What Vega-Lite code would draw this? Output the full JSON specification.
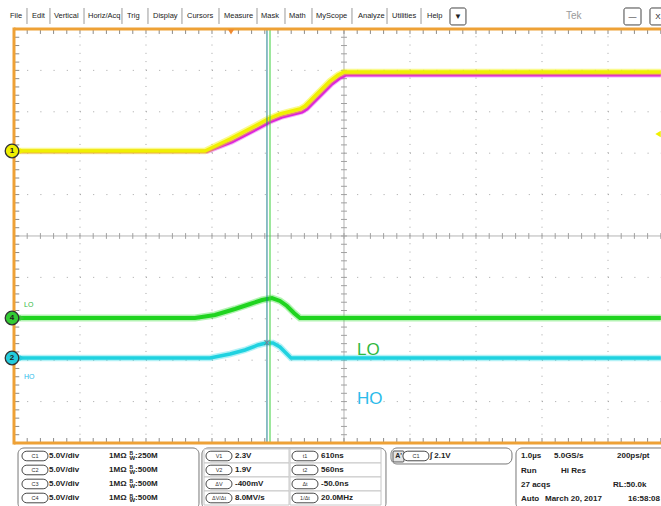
{
 "$schema": "https://vega.github.io/schema/vega-lite/v6.json",
 "width": 661, "height": 506,
 "autosize": {"type": "none"},
 "padding": 0,
 "background": "#ffffff",
 "config": {"view": {"stroke": null}, "font": "Liberation Sans", "text": {"font": "Liberation Sans"}},
 "datasets": {
  "minor": [{"p":-4.8},{"p":-4.6},{"p":-4.4},{"p":-4.2},{"p":-4},{"p":-3.8},{"p":-3.6},{"p":-3.4},{"p":-3.2},{"p":-3},{"p":-2.8},{"p":-2.6},{"p":-2.4},{"p":-2.2},{"p":-2},{"p":-1.8},{"p":-1.6},{"p":-1.4},{"p":-1.2},{"p":-1},{"p":-0.8},{"p":-0.6},{"p":-0.4},{"p":-0.2},{"p":0},{"p":0.2},{"p":0.4},{"p":0.6},{"p":0.8},{"p":1},{"p":1.2},{"p":1.4},{"p":1.6},{"p":1.8},{"p":2},{"p":2.2},{"p":2.4},{"p":2.6},{"p":2.8},{"p":3},{"p":3.2},{"p":3.4},{"p":3.6},{"p":3.8},{"p":4},{"p":4.2},{"p":4.4},{"p":4.6},{"p":4.8}],
  "major": [{"p":-4},{"p":-3},{"p":-2},{"p":-1},{"p":1},{"p":2},{"p":3},{"p":4}],
  "traces": [
   {"ch":"Y","t":-5,"v":2.053},{"ch":"Y","t":-2.106,"v":2.053},{"ch":"Y","t":-1.727,"v":2.343},{"ch":"Y","t":-1.348,"v":2.657},{"ch":"Y","t":-1.152,"v":2.826},{"ch":"Y","t":-0.97,"v":2.947},{"ch":"Y","t":-0.788,"v":3.019},{"ch":"Y","t":-0.667,"v":3.068},{"ch":"Y","t":-0.591,"v":3.14},{"ch":"Y","t":-0.485,"v":3.309},{"ch":"Y","t":-0.364,"v":3.502},{"ch":"Y","t":-0.212,"v":3.744},{"ch":"Y","t":-0.091,"v":3.889},{"ch":"Y","t":0,"v":3.961},{"ch":"Y","t":4.8,"v":3.961},
   {"ch":"M","t":-5,"v":2.04},{"ch":"M","t":-2.076,"v":2.04},{"ch":"M","t":-1.697,"v":2.271},{"ch":"M","t":-1.318,"v":2.585},{"ch":"M","t":-1.121,"v":2.754},{"ch":"M","t":-0.939,"v":2.874},{"ch":"M","t":-0.758,"v":2.947},{"ch":"M","t":-0.636,"v":2.995},{"ch":"M","t":-0.561,"v":3.068},{"ch":"M","t":-0.455,"v":3.237},{"ch":"M","t":-0.333,"v":3.43},{"ch":"M","t":-0.182,"v":3.671},{"ch":"M","t":-0.061,"v":3.816},{"ch":"M","t":0.03,"v":3.889},{"ch":"M","t":4.8,"v":3.889},
   {"ch":"G","t":-5,"v":-1.981},{"ch":"G","t":-2.258,"v":-1.981},{"ch":"G","t":-1.955,"v":-1.908},{"ch":"G","t":-1.652,"v":-1.763},{"ch":"G","t":-1.424,"v":-1.643},{"ch":"G","t":-1.242,"v":-1.546},{"ch":"G","t":-1.091,"v":-1.498},{"ch":"G","t":-0.97,"v":-1.57},{"ch":"G","t":-0.864,"v":-1.691},{"ch":"G","t":-0.758,"v":-1.86},{"ch":"G","t":-0.667,"v":-1.981},{"ch":"G","t":4.8,"v":-1.981},
   {"ch":"C","t":-5,"v":-2.947},{"ch":"C","t":-2.03,"v":-2.947},{"ch":"C","t":-1.727,"v":-2.85},{"ch":"C","t":-1.5,"v":-2.754},{"ch":"C","t":-1.303,"v":-2.633},{"ch":"C","t":-1.182,"v":-2.585},{"ch":"C","t":-1.076,"v":-2.585},{"ch":"C","t":-0.97,"v":-2.681},{"ch":"C","t":-0.879,"v":-2.826},{"ch":"C","t":-0.803,"v":-2.947},{"ch":"C","t":4.8,"v":-2.947}
  ],
  "markers": [{"t":-5.03,"v":2.053,"ch":"1"},{"t":-5.03,"v":-1.981,"ch":"4"},{"t":-5.03,"v":-2.947,"ch":"2"}],
  "menu": [{"t":-5.061,"label":"File"},{"t":-4.727,"label":"Edit"},{"t":-4.394,"label":"Vertical"},{"t":-3.879,"label":"Horiz/Acq"},{"t":-3.288,"label":"Trig"},{"t":-2.894,"label":"Display"},{"t":-2.379,"label":"Cursors"},{"t":-1.818,"label":"Measure"},{"t":-1.258,"label":"Mask"},{"t":-0.833,"label":"Math"},{"t":-0.424,"label":"MyScope"},{"t":0.212,"label":"Analyze"},{"t":0.727,"label":"Utilities"},{"t":1.258,"label":"Help"}],
  "seps": [{"t":-4.803},{"t":-4.455},{"t":-3.939},{"t":-3.364},{"t":-2.97},{"t":-2.455},{"t":-1.894},{"t":-1.318},{"t":-0.894},{"t":-0.485},{"t":0.121},{"t":0.652},{"t":1.167}],
  "boxes": [{"t":1.606,"t2":1.848,"label":"▼","c":1.727},{"t":4.242,"t2":4.5,"label":"—","c":4.371},{"t":4.636,"t2":4.879,"label":"X","c":4.758}],
  "frames": [{"t":-4.939,"t2":-2.197,"v":-5.121,"v2":-6.6},{"t":-2.152,"t2":0.636,"v":-5.121,"v2":-6.6},{"t":0.712,"t2":2.545,"v":-5.121,"v2":-5.507},{"t":2.606,"t2":4.9,"v":-5.121,"v2":-6.6}],
  "cells": [{"t":-2.121,"t2":-0.833,"v":-5.145,"v2":-5.483},{"t":-0.818,"t2":0.561,"v":-5.145,"v2":-5.483},{"t":-2.121,"t2":-0.833,"v":-5.483,"v2":-5.821},{"t":-0.818,"t2":0.561,"v":-5.483,"v2":-5.821},{"t":-2.121,"t2":-0.833,"v":-5.821,"v2":-6.159},{"t":-0.818,"t2":0.561,"v":-5.821,"v2":-6.159},{"t":-2.121,"t2":-0.833,"v":-6.159,"v2":-6.498},{"t":-0.818,"t2":0.561,"v":-6.159,"v2":-6.498}],
  "p1": [{"v":-5.314,"ch":"C1","bw":":250M"},{"v":-5.652,"ch":"C2","bw":":500M"},{"v":-5.99,"ch":"C3","bw":":500M"},{"v":-6.329,"ch":"C4","bw":":500M"}],
  "p2": [{"v":-5.314,"a":"V1","av":"2.3V","b":"t1","bv":"610ns"},{"v":-5.652,"a":"V2","av":"1.9V","b":"t2","bv":"560ns"},{"v":-5.99,"a":"ΔV","av":"-400mV","b":"Δt","bv":"-50.0ns"},{"v":-6.329,"a":"ΔV/Δt","av":"8.0MV/s","b":"1/Δt","bv":"20.0MHz"}],
  "p4": [{"t":2.682,"v":-5.314,"label":"1.0µs"},{"t":3.182,"v":-5.314,"label":"5.0GS/s"},{"t":4.136,"v":-5.314,"label":"200ps/pt"},{"t":2.682,"v":-5.676,"label":"Run"},{"t":3.288,"v":-5.676,"label":"Hi Res"},{"t":2.682,"v":-6.014,"label":"27 acqs"},{"t":4.076,"v":-6.014,"label":"RL:50.0k"},{"t":2.682,"v":-6.353,"label":"Auto"},{"t":3.045,"v":-6.353,"label":"March 20, 2017"},{"t":4.303,"v":-6.353,"label":"16:58:08"}],
  "labels": [{"t":0.197,"v":-2.754,"label":"LO","c":"g"},{"t":0.197,"v":-3.937,"label":"HO","c":"c"}],
  "small": [{"t":-4.848,"v":-1.667,"label":"LO","c":"g"},{"t":-4.848,"v":-3.406,"label":"HO","c":"c"}]
 },
 "layer": [
  {"data": {"name": "major"}, "mark": {"type": "rule", "color": "#a4a4a4", "strokeWidth": 1, "strokeDash": [1, 7.28]},
   "encoding": {"x": {"field": "p", "type": "quantitative", "scale": {"domain": [-5.212, 4.803], "nice": false, "zero": false}, "axis": null},
                "y": {"datum": -5, "type": "quantitative", "scale": {"domain": [-6.522, 5.7], "nice": false, "zero": false}, "axis": null},
                "y2": {"datum": 5}}},
  {"data": {"name": "major"}, "mark": {"type": "rule", "color": "#a4a4a4", "strokeWidth": 1, "strokeDash": [1, 12.2]},
   "encoding": {"y": {"field": "p", "type": "quantitative"}, "x": {"datum": -5}, "x2": {"datum": 4.803}}},
  {"data": {"values": [{}]}, "mark": {"type": "rule", "color": "#b4b4b4", "strokeWidth": 1},
   "encoding": {"x": {"datum": 0}, "y": {"datum": -5}, "y2": {"datum": 5}}},
  {"data": {"values": [{}]}, "mark": {"type": "rule", "color": "#b4b4b4", "strokeWidth": 1},
   "encoding": {"y": {"datum": 0}, "x": {"datum": -5}, "x2": {"datum": 4.803}}},
  {"data": {"name": "minor"}, "mark": {"type": "rule", "color": "#8a8a8a", "strokeWidth": 1},
   "encoding": {"x": {"field": "p", "type": "quantitative"}, "y": {"datum": 4.88}, "y2": {"datum": 5}}},
  {"data": {"name": "minor"}, "mark": {"type": "rule", "color": "#8a8a8a", "strokeWidth": 1},
   "encoding": {"x": {"field": "p", "type": "quantitative"}, "y": {"datum": -5}, "y2": {"datum": -4.88}}},
  {"data": {"name": "minor"}, "mark": {"type": "rule", "color": "#a0a0a0", "strokeWidth": 1},
   "encoding": {"x": {"field": "p", "type": "quantitative"}, "y": {"datum": -0.07}, "y2": {"datum": 0.07}}},
  {"data": {"name": "minor"}, "mark": {"type": "rule", "color": "#8a8a8a", "strokeWidth": 1},
   "encoding": {"y": {"field": "p", "type": "quantitative"}, "x": {"datum": -5}, "x2": {"datum": -4.92}}},
  {"data": {"name": "minor"}, "mark": {"type": "rule", "color": "#a0a0a0", "strokeWidth": 1},
   "encoding": {"y": {"field": "p", "type": "quantitative"}, "x": {"datum": -0.045}, "x2": {"datum": 0.045}}},

  {"data": {"name": "traces"}, "transform": [{"filter": "datum.ch === 'M'"}], "mark": {"type": "line", "color": "#e020e0", "strokeWidth": 5, "opacity": 0.35},
   "encoding": {"x": {"field": "t", "type": "quantitative"}, "y": {"field": "v", "type": "quantitative"}}},
  {"data": {"name": "traces"}, "transform": [{"filter": "datum.ch === 'M'"}], "mark": {"type": "line", "color": "#dd22dd", "strokeWidth": 3},
   "encoding": {"x": {"field": "t", "type": "quantitative"}, "y": {"field": "v", "type": "quantitative"}}},
  {"data": {"name": "traces"}, "transform": [{"filter": "datum.ch === 'Y'"}], "mark": {"type": "line", "color": "#f4f400", "strokeWidth": 6.5, "opacity": 0.45},
   "encoding": {"x": {"field": "t", "type": "quantitative"}, "y": {"field": "v", "type": "quantitative"}}},
  {"data": {"name": "traces"}, "transform": [{"filter": "datum.ch === 'Y'"}], "mark": {"type": "line", "color": "#f0f000", "strokeWidth": 3.5},
   "encoding": {"x": {"field": "t", "type": "quantitative"}, "y": {"field": "v", "type": "quantitative"}}},
  {"data": {"name": "traces"}, "transform": [{"filter": "datum.ch === 'G'"}], "mark": {"type": "line", "color": "#22dd22", "strokeWidth": 7, "opacity": 0.35},
   "encoding": {"x": {"field": "t", "type": "quantitative"}, "y": {"field": "v", "type": "quantitative"}}},
  {"data": {"name": "traces"}, "transform": [{"filter": "datum.ch === 'G'"}], "mark": {"type": "line", "color": "#1fd41f", "strokeWidth": 4},
   "encoding": {"x": {"field": "t", "type": "quantitative"}, "y": {"field": "v", "type": "quantitative"}}},
  {"data": {"name": "traces"}, "transform": [{"filter": "datum.ch === 'C'"}], "mark": {"type": "line", "color": "#22d8e4", "strokeWidth": 6.5, "opacity": 0.35},
   "encoding": {"x": {"field": "t", "type": "quantitative"}, "y": {"field": "v", "type": "quantitative"}}},
  {"data": {"name": "traces"}, "transform": [{"filter": "datum.ch === 'C'"}], "mark": {"type": "line", "color": "#1fd2e0", "strokeWidth": 3.5},
   "encoding": {"x": {"field": "t", "type": "quantitative"}, "y": {"field": "v", "type": "quantitative"}}},

  {"data": {"values": [{}]}, "mark": {"type": "rule", "color": "#1b7f8c", "strokeWidth": 1},
   "encoding": {"x": {"datum": -1.167}, "y": {"datum": -5}, "y2": {"datum": 5}}},
  {"data": {"values": [{}]}, "mark": {"type": "rule", "color": "#3ccf3c", "strokeWidth": 1},
   "encoding": {"x": {"datum": -1.121}, "y": {"datum": -5}, "y2": {"datum": 5}}},
  {"data": {"values": [{}]}, "mark": {"type": "text", "text": "×", "fontSize": 13, "color": "#7a8a9a", "align": "center", "baseline": "middle"},
   "encoding": {"x": {"datum": -1.167}, "y": {"datum": -2.585}}},

  {"data": {"values": [{}]}, "mark": {"type": "rule", "color": "#eea136", "strokeWidth": 3},
   "encoding": {"x": {"datum": -5}, "x2": {"datum": 4.803}, "y": {"datum": 5}}},
  {"data": {"values": [{}]}, "mark": {"type": "rule", "color": "#eea136", "strokeWidth": 3},
   "encoding": {"x": {"datum": -5}, "x2": {"datum": 4.803}, "y": {"datum": -5}}},
  {"data": {"values": [{}]}, "mark": {"type": "rule", "color": "#eea136", "strokeWidth": 3},
   "encoding": {"x": {"datum": -5}, "y": {"datum": -5.036}, "y2": {"datum": 5.036}}},

  {"data": {"name": "markers"}, "mark": {"type": "point", "shape": "triangle-right", "filled": true, "size": 35, "opacity": 1},
   "encoding": {"x": {"datum": -4.879}, "y": {"field": "v", "type": "quantitative"}, "color": {"field": "ch", "type": "nominal", "scale": {"domain": ["1", "4", "2"], "range": ["#f0f000", "#33cc33", "#22ccdd"]}, "legend": null}}},
  {"data": {"name": "markers"}, "mark": {"type": "point", "shape": "circle", "filled": true, "size": 185, "opacity": 1, "stroke": "#333333", "strokeWidth": 1.3},
   "encoding": {"x": {"field": "t", "type": "quantitative"}, "y": {"field": "v", "type": "quantitative"}, "color": {"field": "ch", "type": "nominal", "scale": {"domain": ["1", "4", "2"], "range": ["#f0f000", "#33cc33", "#22ccdd"]}, "legend": null}}},
  {"data": {"name": "markers"}, "mark": {"type": "text", "fontSize": 8, "fontWeight": "bold", "color": "#222", "align": "center", "baseline": "middle"},
   "encoding": {"x": {"field": "t", "type": "quantitative"}, "y": {"field": "v", "type": "quantitative"}, "text": {"field": "ch"}}},

  {"data": {"values": [{}]}, "mark": {"type": "point", "shape": "triangle-down", "filled": true, "size": 40, "color": "#f08a30", "opacity": 1},
   "encoding": {"x": {"datum": -1.712}, "y": {"datum": 4.93}}},
  {"data": {"values": [{}]}, "mark": {"type": "point", "shape": "triangle-left", "filled": true, "size": 40, "color": "#f0f000", "opacity": 1},
   "encoding": {"x": {"datum": 4.758}, "y": {"datum": 2.464}}},

  {"data": {"name": "labels"}, "transform": [{"filter": "datum.c === 'g'"}], "mark": {"type": "text", "fontSize": 17, "align": "left", "baseline": "middle", "color": "#2fb83f"},
   "encoding": {"x": {"field": "t", "type": "quantitative"}, "y": {"field": "v", "type": "quantitative"}, "text": {"field": "label"}}},
  {"data": {"name": "labels"}, "transform": [{"filter": "datum.c === 'c'"}], "mark": {"type": "text", "fontSize": 17, "align": "left", "baseline": "middle", "color": "#2cbbea"},
   "encoding": {"x": {"field": "t", "type": "quantitative"}, "y": {"field": "v", "type": "quantitative"}, "text": {"field": "label"}}},
  {"data": {"name": "small"}, "transform": [{"filter": "datum.c === 'g'"}], "mark": {"type": "text", "fontSize": 7, "align": "left", "baseline": "middle", "color": "#2fb83f"},
   "encoding": {"x": {"field": "t", "type": "quantitative"}, "y": {"field": "v", "type": "quantitative"}, "text": {"field": "label"}}},
  {"data": {"name": "small"}, "transform": [{"filter": "datum.c === 'c'"}], "mark": {"type": "text", "fontSize": 7, "align": "left", "baseline": "middle", "color": "#2cbbea"},
   "encoding": {"x": {"field": "t", "type": "quantitative"}, "y": {"field": "v", "type": "quantitative"}, "text": {"field": "label"}}},

  {"data": {"name": "menu"}, "mark": {"type": "text", "fontSize": 7.5, "color": "#222", "align": "left", "baseline": "middle"},
   "encoding": {"x": {"field": "t", "type": "quantitative"}, "y": {"datum": 5.314}, "text": {"field": "label"}}},
  {"data": {"name": "seps"}, "mark": {"type": "rule", "color": "#9a9a9a", "strokeWidth": 1},
   "encoding": {"x": {"field": "t", "type": "quantitative"}, "y": {"datum": 5.121}, "y2": {"datum": 5.507}}},
  {"data": {"name": "boxes"}, "mark": {"type": "rect", "fill": "#ffffff", "stroke": "#444", "strokeWidth": 1, "cornerRadius": 2},
   "encoding": {"x": {"field": "t", "type": "quantitative"}, "x2": {"field": "t2"}, "y": {"datum": 5.097}, "y2": {"datum": 5.507}}},
  {"data": {"name": "boxes"}, "mark": {"type": "text", "fontSize": 8, "color": "#222", "align": "center", "baseline": "middle"},
   "encoding": {"x": {"field": "c", "type": "quantitative"}, "y": {"datum": 5.3}, "text": {"field": "label"}}},
  {"data": {"values": [{}]}, "mark": {"type": "text", "text": "Tek", "fontSize": 10, "color": "#9a9a9a", "align": "left", "baseline": "middle"},
   "encoding": {"x": {"datum": 3.364}, "y": {"datum": 5.314}}},

  {"data": {"name": "frames"}, "mark": {"type": "rect", "fill": "#ffffff", "stroke": "#777", "strokeWidth": 1, "cornerRadius": 6},
   "encoding": {"x": {"field": "t", "type": "quantitative"}, "x2": {"field": "t2"}, "y": {"field": "v", "type": "quantitative"}, "y2": {"field": "v2"}}},
  {"data": {"name": "cells"}, "mark": {"type": "rect", "fill": "#ffffff", "stroke": "#c8c8c8", "strokeWidth": 1},
   "encoding": {"x": {"field": "t", "type": "quantitative"}, "x2": {"field": "t2"}, "y": {"field": "v", "type": "quantitative"}, "y2": {"field": "v2"}}},

  {"data": {"name": "p1"}, "mark": {"type": "point", "shape": "M-0.6,-0.35L0.6,-0.35A0.35,0.35,0,0,1,0.6,0.35L-0.6,0.35A0.35,0.35,0,0,1,-0.6,-0.35Z", "size": 751, "filled": true, "fill": "#ffffff", "stroke": "#333", "strokeWidth": 0.9, "opacity": 1},
   "encoding": {"x": {"datum": -4.682}, "y": {"field": "v", "type": "quantitative"}}},
  {"data": {"name": "p1"}, "mark": {"type": "text", "fontSize": 5.5, "color": "#333", "align": "center", "baseline": "middle"},
   "encoding": {"x": {"datum": -4.682}, "y": {"field": "v", "type": "quantitative"}, "text": {"field": "ch"}}},
  {"data": {"name": "p1"}, "mark": {"type": "text", "text": "5.0V/div", "fontSize": 8, "fontWeight": "bold", "color": "#222", "align": "left", "baseline": "middle"},
   "encoding": {"x": {"datum": -4.47}, "y": {"field": "v", "type": "quantitative"}}},
  {"data": {"name": "p1"}, "mark": {"type": "text", "text": "1MΩ", "fontSize": 8, "fontWeight": "bold", "color": "#222", "align": "left", "baseline": "middle"},
   "encoding": {"x": {"datum": -3.56}, "y": {"field": "v", "type": "quantitative"}}},
  {"data": {"name": "p1"}, "mark": {"type": "text", "text": "B", "fontSize": 5, "fontWeight": "bold", "color": "#222", "align": "left", "baseline": "middle", "dy": -2.5},
   "encoding": {"x": {"datum": -3.25}, "y": {"field": "v", "type": "quantitative"}}},
  {"data": {"name": "p1"}, "mark": {"type": "text", "text": "W", "fontSize": 6, "fontWeight": "bold", "color": "#222", "align": "left", "baseline": "middle", "dy": 2},
   "encoding": {"x": {"datum": -3.25}, "y": {"field": "v", "type": "quantitative"}}},
  {"data": {"name": "p1"}, "mark": {"type": "text", "fontSize": 8, "fontWeight": "bold", "color": "#222", "align": "left", "baseline": "middle"},
   "encoding": {"x": {"datum": -3.165}, "y": {"field": "v", "type": "quantitative"}, "text": {"field": "bw"}}},

  {"data": {"name": "p2"}, "mark": {"type": "point", "shape": "M-0.6,-0.35L0.6,-0.35A0.35,0.35,0,0,1,0.6,0.35L-0.6,0.35A0.35,0.35,0,0,1,-0.6,-0.35Z", "size": 751, "filled": true, "fill": "#ffffff", "stroke": "#333", "strokeWidth": 0.9, "opacity": 1},
   "encoding": {"x": {"datum": -1.894}, "y": {"field": "v", "type": "quantitative"}}},
  {"data": {"name": "p2"}, "mark": {"type": "point", "shape": "M-0.6,-0.35L0.6,-0.35A0.35,0.35,0,0,1,0.6,0.35L-0.6,0.35A0.35,0.35,0,0,1,-0.6,-0.35Z", "size": 751, "filled": true, "fill": "#ffffff", "stroke": "#333", "strokeWidth": 0.9, "opacity": 1},
   "encoding": {"x": {"datum": -0.591}, "y": {"field": "v", "type": "quantitative"}}},
  {"data": {"name": "p2"}, "mark": {"type": "text", "fontSize": 5.5, "color": "#333", "align": "center", "baseline": "middle"},
   "encoding": {"x": {"datum": -1.894}, "y": {"field": "v", "type": "quantitative"}, "text": {"field": "a"}}},
  {"data": {"name": "p2"}, "mark": {"type": "text", "fontSize": 5.5, "color": "#333", "align": "center", "baseline": "middle"},
   "encoding": {"x": {"datum": -0.591}, "y": {"field": "v", "type": "quantitative"}, "text": {"field": "b"}}},
  {"data": {"name": "p2"}, "mark": {"type": "text", "fontSize": 8, "fontWeight": "bold", "color": "#222", "align": "left", "baseline": "middle"},
   "encoding": {"x": {"datum": -1.652}, "y": {"field": "v", "type": "quantitative"}, "text": {"field": "av"}}},
  {"data": {"name": "p2"}, "mark": {"type": "text", "fontSize": 8, "fontWeight": "bold", "color": "#222", "align": "left", "baseline": "middle"},
   "encoding": {"x": {"datum": -0.348}, "y": {"field": "v", "type": "quantitative"}, "text": {"field": "bv"}}},

  {"data": {"values": [{}]}, "mark": {"type": "rect", "fill": "#e4e4e4", "stroke": "#444", "strokeWidth": 0.9, "cornerRadius": 1},
   "encoding": {"x": {"datum": 0.742}, "x2": {"datum": 0.909}, "y": {"datum": -5.193}, "y2": {"datum": -5.459}}},
  {"data": {"values": [{}]}, "mark": {"type": "text", "text": "A'", "fontSize": 7, "fontWeight": "bold", "color": "#222", "align": "center", "baseline": "middle"},
   "encoding": {"x": {"datum": 0.826}, "y": {"datum": -5.314}}},
  {"data": {"values": [{}]}, "mark": {"type": "point", "shape": "M-0.6,-0.35L0.6,-0.35A0.35,0.35,0,0,1,0.6,0.35L-0.6,0.35A0.35,0.35,0,0,1,-0.6,-0.35Z", "size": 751, "filled": true, "fill": "#ffffff", "stroke": "#333", "strokeWidth": 0.9, "opacity": 1},
   "encoding": {"x": {"datum": 1.09}, "y": {"datum": -5.314}}},
  {"data": {"values": [{}]}, "mark": {"type": "text", "text": "C1", "fontSize": 5.5, "color": "#333", "align": "center", "baseline": "middle"},
   "encoding": {"x": {"datum": 1.09}, "y": {"datum": -5.314}}},
  {"data": {"values": [{}]}, "mark": {"type": "text", "text": "∫ 2.1V", "fontSize": 8, "fontWeight": "bold", "color": "#222", "align": "left", "baseline": "middle"},
   "encoding": {"x": {"datum": 1.3}, "y": {"datum": -5.314}}},

  {"data": {"name": "p4"}, "mark": {"type": "text", "fontSize": 8, "fontWeight": "bold", "color": "#222", "align": "left", "baseline": "middle"},
   "encoding": {"x": {"field": "t", "type": "quantitative"}, "y": {"field": "v", "type": "quantitative"}, "text": {"field": "label"}}}
 ]
}
